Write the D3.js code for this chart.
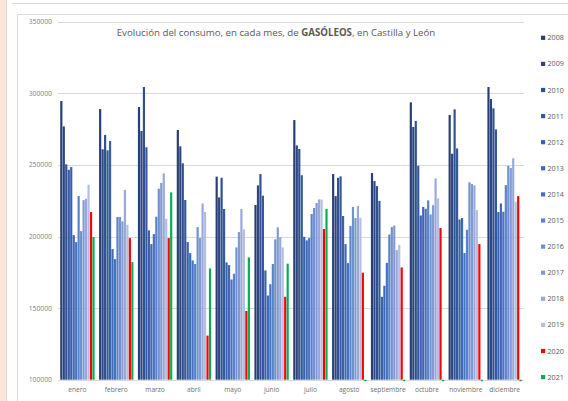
<!DOCTYPE html>
<html>
<head>
<meta charset="utf-8">
<script src="https://cdn.jsdelivr.net/npm/d3@7"></script>
<style>
  html, body { margin: 0; padding: 0; background: #ffffff; }
  svg { display: block; font-family: "Open Sans", "Noto Sans", sans-serif; }
</style>
</head>
<body>
<svg width="568" height="401"></svg>
<script>
// months and years (series)
const months = ['enero', 'febrero', 'marzo', 'abril', 'mayo', 'junio', 'julio', 'agosto', 'septiembre', 'octubre', 'noviembre', 'diciembre'];
const years = ['2008', '2009', '2010', '2011', '2012', '2013', '2014', '2015', '2016', '2017', '2018', '2019', '2020', '2021'];
const yTicks = [100000, 150000, 200000, 250000, 300000, 350000];

// consumption per year, one value per month (enero..diciembre)
const v2008 = [294600, 289000, 290400, 274400, 241800, 222000, 281300, 243600, 244300, 293700, 284900, 304400];
const v2009 = [276900, 260900, 273700, 263000, 227300, 235700, 263600, 228200, 238700, 276500, 257800, 296000];
const v2010 = [250400, 270900, 304400, 251100, 241000, 243600, 261100, 241000, 235200, 280700, 288800, 289500];
const v2011 = [246600, 260200, 262300, 225500, 219200, 228500, 242800, 242000, 224900, 249400, 261500, 274800];
const v2012 = [248500, 266700, 204300, 196100, 181900, 176300, 199800, 214300, 157900, 214700, 211900, 217100];
const v2013 = [201000, 191200, 194700, 188400, 180000, 158800, 197300, 194700, 165600, 220600, 212900, 223100];
const v2014 = [196100, 184200, 201700, 183300, 170000, 166700, 198900, 181400, 181600, 219400, 188400, 217300];
const v2015 = [228200, 213600, 213800, 180800, 174000, 180800, 215700, 207300, 201400, 225200, 204700, 235900];
const v2016 = [203800, 213600, 233400, 206600, 192400, 198000, 219900, 220600, 206600, 215400, 237800, 249400];
const v2017 = [225400, 210600, 237400, 198900, 203100, 206400, 223400, 212900, 207700, 221900, 236600, 247800];
const v2018 = [226400, 232500, 244100, 223100, 219200, 199600, 225900, 221300, 190500, 240600, 235700, 254600];
const v2019 = [236200, 208200, 212400, 217100, 205000, 192400, 225900, 213100, 194000, 226600, 218500, 224300];
const v2020 = [217100, 198900, 198900, 130800, 148000, 157900, 205200, 174700, 178400, 205900, 194700, 228200];
const v2021 = [199600, 182100, 230800, 177700, 185400, 181000, 219200, 0, 0, 0, 0, 0];
const series = [v2008, v2009, v2010, v2011, v2012, v2013, v2014, v2015, v2016, v2017, v2018, v2019, v2020, v2021];

const colors = ['#283f73', '#2c4780', '#30508f', '#34589c', '#3960a9', '#3e68b6', '#4571c2',
                '#5a82c9', '#6e91cf', '#8399d3', '#98a9d9', '#b3bfe2', '#ff0000', '#00b050'];

const svg = d3.select('svg');

// page chrome (spreadsheet frame)
svg.append('rect').attr('x', 0).attr('y', 0).attr('width', 6).attr('height', 401).attr('fill', '#fbe5d6');
svg.append('line').attr('x1', 6.5).attr('x2', 6.5).attr('y1', 0).attr('y2', 401).attr('stroke', '#d9d9d9');
svg.append('line').attr('x1', 12).attr('x2', 568).attr('y1', 3.5).attr('y2', 3.5).attr('stroke', '#d9d9d9');
svg.append('line').attr('x1', 17.5).attr('x2', 568).attr('y1', 14.5).attr('y2', 14.5).attr('stroke', '#d9d9d9');
svg.append('line').attr('x1', 17.5).attr('x2', 17.5).attr('y1', 14.5).attr('y2', 401).attr('stroke', '#d9d9d9');

// scales
const x = d3.scaleBand().domain(months).range([58, 524]).paddingInner(0.1).paddingOuter(0.05);
const xi = d3.scaleBand().domain(years).range([0, x.bandwidth()]).padding(0.12);
const y = d3.scaleLinear().domain([100000, 350000]).range([379.7, 21.7]);

// gridlines
svg.append('g')
    .selectAll('line')
    .data(yTicks)
    .join('line')
    .attr('x1', 58)
    .attr('x2', 524)
    .attr('y1', d => Math.round(y(d)) + 0.5)
    .attr('y2', d => Math.round(y(d)) + 0.5)
    .attr('stroke', '#d9d9d9')
    .attr('stroke-width', 1);

// y axis labels
svg.append('g')
    .selectAll('text')
    .data(yTicks)
    .join('text')
    .attr('x', 52)
    .attr('y', d => y(d) + 2.5)
    .attr('text-anchor', 'end')
    .attr('font-size', 6.8)
    .attr('fill', '#7f7f7f')
    .text(d => d);

// bars
const bars = svg.append('g').attr('id', 'bars');
years.forEach((yr, i) => {
    bars.append('g')
        .attr('fill', colors[i])
        .selectAll('rect')
        .data(series[i])
        .join('rect')
        .attr('x', (d, m) => x(months[m]) + xi(yr))
        .attr('width', xi.bandwidth())
        .attr('y', d => d < 100000 ? y(100000) : y(d))
        .attr('height', d => d < 100000 ? 1.5 : y(100000) - y(d));
});

// month labels
svg.append('g')
    .selectAll('text')
    .data(months)
    .join('text')
    .attr('x', d => x(d) + x.bandwidth() / 2)
    .attr('y', 392)
    .attr('text-anchor', 'middle')
    .attr('font-size', 6.6)
    .attr('fill', '#6f6f6f')
    .text(d => d);

// title
const title = svg.append('text')
    .attr('x', 276)
    .attr('y', 35.5)
    .attr('text-anchor', 'middle')
    .attr('font-size', 9.7)
    .attr('fill', '#595959');
title.append('tspan').text('Evolución del consumo, en cada mes, de ');
title.append('tspan').attr('font-weight', 'bold').text('GASÓLEOS');
title.append('tspan').text(', en Castilla y León');

// legend
const legend = svg.append('g')
    .selectAll('g')
    .data(years)
    .join('g')
    .attr('transform', (d, i) => `translate(541, ${37.7 + i * 26.1})`);
legend.append('rect')
    .attr('x', 0)
    .attr('y', -2)
    .attr('width', 4.2)
    .attr('height', 4.2)
    .attr('fill', (d, i) => colors[i]);
legend.append('text')
    .attr('x', 6.5)
    .attr('y', 2.6)
    .attr('font-size', 7.2)
    .attr('fill', '#595959')
    .text(d => d);
</script>
</body>
</html>
